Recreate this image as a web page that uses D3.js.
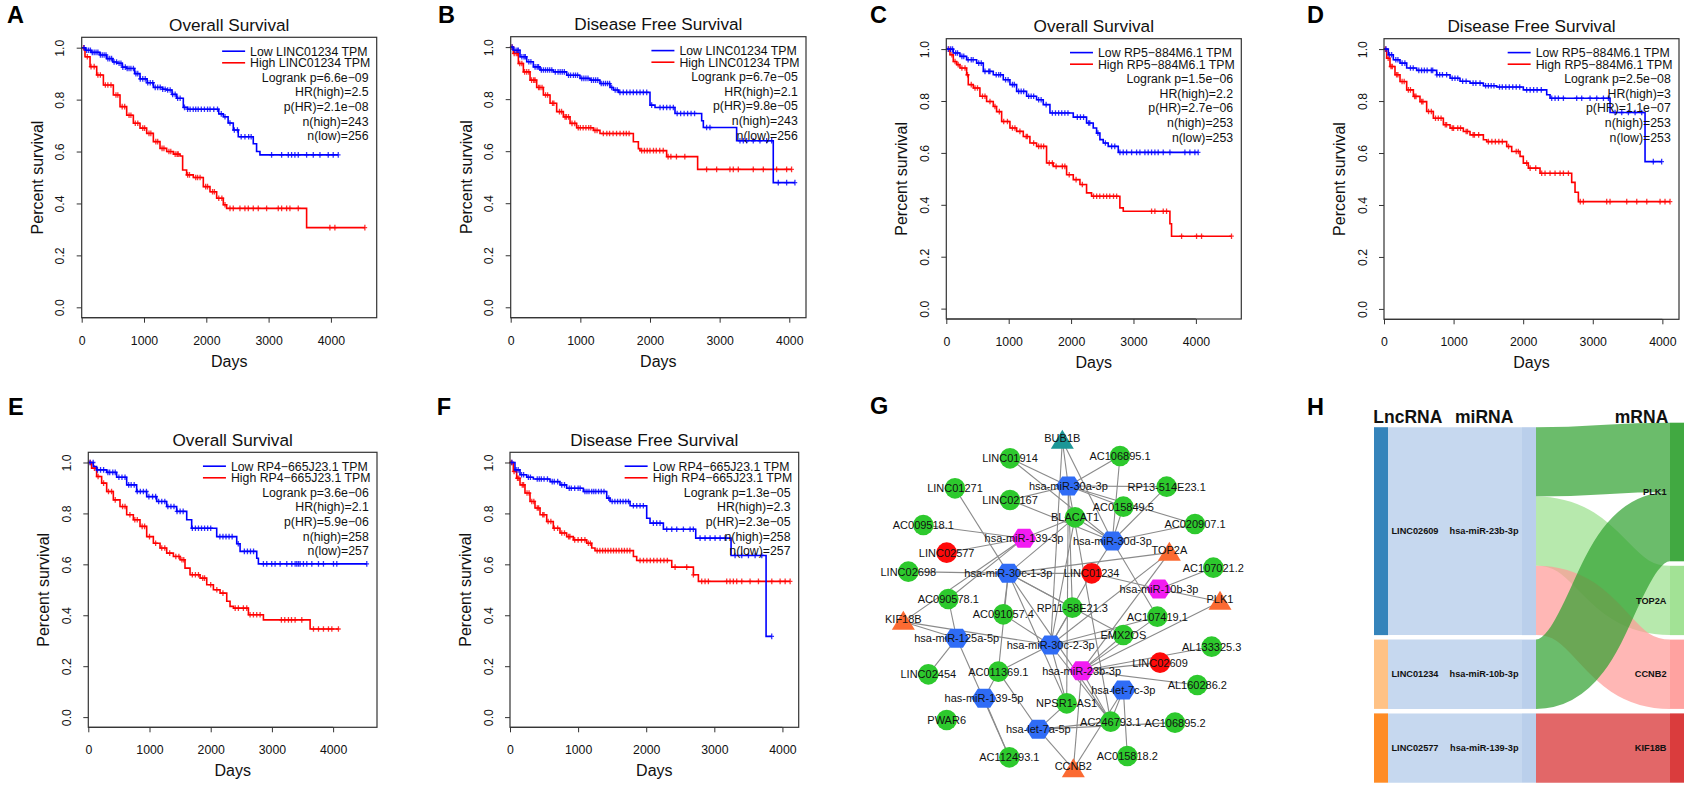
<!DOCTYPE html>
<html><head><meta charset="utf-8">
<script src="https://cdn.jsdelivr.net/npm/d3@7"></script>
<style>
body{margin:0;background:#fff;}
svg{display:block;}
text{font-family:Arial,"Liberation Sans",Helvetica,sans-serif;}
</style></head>
<body>
<svg id="c" width="1687" height="786"></svg>
<script>
// ===================== DATA =====================
const xTicks = [0, 1000, 2000, 3000, 4000];
const yTicks = [0, 0.2, 0.4, 0.6, 0.8, 1.0];

// Kaplan-Meier step points [day, survival] and censor days
const A_low = [[60,0.99],[150,0.982],[294,0.972],[400,0.958],[500,0.945],[561,0.94],[650,0.925],[722,0.92],[850,0.9],[936,0.88],[1050,0.865],[1150,0.847],[1300,0.84],[1364,0.837],[1450,0.82],[1524,0.805],[1631,0.77],[1700,0.763],[2200,0.745],[2273,0.734],[2350,0.71],[2433,0.683],[2513,0.657],[2754,0.63],[2807,0.60],[2861,0.587]];
const A_lowC = [40,80,110,140,170,200,230,260,300,330,360,390,420,450,480,520,560,600,630,660,700,730,760,790,830,870,900,940,980,1020,1060,1100,1140,1180,1220,1260,1300,1340,1380,1420,1460,1500,1540,1580,1650,1700,1740,1790,1830,1870,1920,1970,2020,2060,2120,2180,2240,2300,2380,2450,2500,2560,2620,2680,2720,3048,3209,3316,3369,3422,3476,3610,3717,3824,3957,4037,4118];
const A_high = [[53,0.965],[134,0.927],[241,0.895],[348,0.856],[508,0.818],[615,0.773],[722,0.74],[829,0.709],[936,0.69],[1043,0.67],[1150,0.638],[1257,0.612],[1364,0.60],[1471,0.59],[1578,0.583],[1620,0.529],[1684,0.51],[1791,0.50],[1952,0.465],[2059,0.445],[2166,0.42],[2273,0.395],[2326,0.381],[3610,0.307]];
const A_highC = [30,90,150,200,260,300,380,420,470,550,580,650,690,760,790,860,900,980,1010,1080,1110,1190,1220,1290,1320,1400,1430,1500,1530,1550,1700,1730,1830,1860,1900,1990,2020,2100,2130,2200,2250,2300,2380,2433,2540,2620,2674,2754,2834,2968,3155,3209,3289,3342,3476,3984,4064,4545];

const B_low = [[38,0.988],[134,0.963],[230,0.944],[325,0.924],[421,0.912],[612,0.905],[804,0.892],[995,0.88],[1139,0.873],[1282,0.86],[1426,0.845],[1474,0.835],[1550,0.826],[2000,0.777],[2072,0.768],[2359,0.745],[2742,0.717],[2766,0.691],[3244,0.64],[3770,0.479]];
const B_lowC = [20,60,90,110,160,190,210,260,290,350,380,400,440,470,500,530,560,590,640,680,710,740,770,830,860,900,930,960,1020,1050,1080,1110,1160,1190,1220,1250,1300,1330,1360,1390,1420,1450,1500,1530,1569,1617,1665,1713,1761,1809,1857,1905,1953,2024,2144,2192,2240,2288,2335,2390,2440,2490,2540,2590,2640,2813,2861,3292,3340,3388,3483,3579,3675,3747,3842,3962,4081];
const B_high = [[38,0.976],[110,0.937],[182,0.905],[278,0.873],[373,0.845],[469,0.816],[565,0.784],[660,0.752],[756,0.732],[852,0.707],[947,0.69],[1187,0.68],[1282,0.668],[1761,0.636],[1833,0.61],[1856,0.602],[2239,0.579],[2684,0.53]];
const B_highC = [20,50,80,100,130,160,200,230,260,300,330,350,400,420,450,500,530,600,620,700,730,780,800,830,880,920,970,1000,1040,1080,1120,1150,1210,1240,1330,1380,1420,1470,1520,1570,1620,1660,1700,1880,1920,1960,2000,2050,2090,2140,2190,2260,2300,2380,2500,2813,2957,3148,3196,3268,3483,3627,3818,3962,4033];

const C_low = [[112,0.985],[219,0.972],[326,0.959],[486,0.946],[593,0.914],[753,0.901],[913,0.882],[1020,0.863],[1127,0.837],[1287,0.818],[1447,0.805],[1554,0.786],[1661,0.754],[2035,0.738],[2248,0.715],[2355,0.696],[2409,0.676],[2462,0.651],[2515,0.638],[2595,0.625],[2756,0.602]];
const C_lowC = [30,70,100,150,180,250,280,350,400,430,520,560,620,680,700,800,840,870,950,990,1060,1090,1160,1200,1240,1320,1360,1400,1480,1520,1600,1700,1750,1800,1850,1900,1950,2100,2150,2200,2280,2300,2430,2550,2650,2700,2783,2836,2890,2970,3050,3103,3183,3236,3290,3343,3396,3477,3584,3824,3904,3984,4037];
const C_high = [[59,0.978],[112,0.952],[166,0.94],[219,0.927],[326,0.901],[352,0.863],[433,0.85],[539,0.818],[646,0.798],[753,0.779],[806,0.759],[887,0.721],[1020,0.696],[1127,0.683],[1234,0.663],[1340,0.638],[1447,0.625],[1607,0.561],[1714,0.548],[1928,0.516],[2035,0.497],[2142,0.478],[2248,0.446],[2328,0.433],[2782,0.388],[2836,0.375],[3584,0.327],[3610,0.279]];
const C_highC = [40,90,140,190,250,300,340,400,460,500,580,620,700,780,850,920,980,1060,1100,1180,1280,1300,1400,1480,1520,1560,1650,1700,1760,1860,1900,1970,2080,2180,2360,2410,2460,2520,2570,2620,2680,2730,3290,3343,3477,3530,3771,4011,4091,4571];

const D_low = [[62,0.978],[134,0.959],[230,0.946],[326,0.927],[469,0.918],[757,0.901],[949,0.888],[1092,0.876],[1236,0.869],[1428,0.859],[1619,0.854],[2002,0.843],[2338,0.824],[2386,0.811],[3248,0.756],[3751,0.567]];
const D_lowC = [30,80,110,170,200,260,300,380,420,500,540,580,620,680,700,760,800,840,900,980,1020,1060,1130,1180,1280,1320,1380,1460,1500,1540,1580,1660,1700,1750,1800,1850,1900,1950,2050,2100,2150,2200,2260,2410,2458,2506,2578,2769,2841,2961,3057,3153,3224,3320,3416,3512,3608,3703,3870,3990];
const D_high = [[38,0.965],[86,0.933],[158,0.901],[230,0.875],[326,0.843],[422,0.818],[517,0.798],[613,0.76],[709,0.734],[853,0.709],[949,0.696],[1140,0.683],[1236,0.67],[1428,0.651],[1475,0.644],[1763,0.625],[1835,0.606],[1955,0.587],[2002,0.561],[2074,0.542],[2242,0.522],[2697,0.487],[2745,0.449],[2793,0.413]];
const D_highC = [20,60,100,120,180,200,260,290,350,380,440,460,540,560,640,680,740,780,820,880,900,980,1000,1060,1100,1180,1200,1280,1300,1360,1500,1550,1600,1650,1700,1790,1900,1930,2050,2100,2180,2266,2314,2386,2458,2530,2578,2650,2820,2865,3200,3248,3488,3632,3776,3967,4038,4110];

const E_low = [[82,0.984],[136,0.971],[300,0.961],[463,0.942],[627,0.912],[790,0.886],[954,0.866],[1117,0.847],[1281,0.827],[1444,0.808],[1608,0.775],[1689,0.742],[2098,0.709],[2425,0.681],[2480,0.651],[2752,0.624],[2779,0.602]];
const E_lowC = [30,80,150,200,250,320,350,400,440,500,550,600,660,700,750,800,850,900,950,990,1050,1100,1150,1200,1250,1300,1350,1400,1450,1500,1550,1700,1750,1800,1850,1900,1950,2000,2150,2200,2250,2300,2350,2450,2550,2600,2650,2700,2861,2916,2997,3052,3134,3243,3325,3379,3406,3434,3461,3515,3570,3652,3761,3842,4006,4060,4550];
const E_high = [[54,0.978],[136,0.945],[218,0.919],[300,0.886],[409,0.853],[518,0.827],[627,0.795],[736,0.775],[845,0.749],[954,0.709],[1063,0.683],[1172,0.664],[1281,0.644],[1390,0.631],[1499,0.618],[1580,0.585],[1662,0.559],[1826,0.546],[1935,0.52],[2044,0.50],[2153,0.487],[2262,0.455],[2316,0.435],[2371,0.428],[2616,0.402],[2861,0.382],[3624,0.346]];
const E_highC = [30,100,160,250,330,380,440,560,600,680,760,800,880,920,1000,1100,1200,1250,1330,1430,1480,1530,1560,1700,1750,1800,1870,1900,2000,2100,2200,2400,2452,2534,2589,2643,2698,2752,2807,3155,3210,3270,3320,3379,3488,3679,3761,3842,3924,3979,4087];

const F_low = [[73,0.971],[147,0.952],[245,0.942],[343,0.935],[588,0.925],[734,0.912],[832,0.899],[1077,0.886],[1420,0.86],[1469,0.847],[1763,0.83],[2007,0.781],[2056,0.762],[2252,0.738],[2727,0.703],[3246,0.635],[3760,0.317]];
const F_lowC = [30,90,120,170,200,270,300,400,430,460,500,550,620,650,700,760,800,870,900,950,1000,1030,1100,1130,1160,1200,1230,1260,1300,1340,1380,1450,1500,1540,1580,1620,1660,1700,1740,1812,1861,1910,1958,2105,2154,2203,2301,2375,2448,2546,2644,2692,2791,2864,2938,3011,3085,3158,3305,3403,3501,3599,3697,3843];
const F_high = [[49,0.965],[98,0.938],[147,0.912],[220,0.88],[294,0.847],[367,0.821],[441,0.795],[539,0.768],[636,0.742],[734,0.723],[832,0.709],[930,0.696],[1126,0.683],[1200,0.664],[1248,0.654],[1812,0.631],[1860,0.615],[2375,0.589],[2693,0.559],[2766,0.533]];
const F_highC = [20,60,110,130,180,200,250,280,320,350,400,420,480,500,560,600,650,700,760,800,860,880,950,1000,1050,1100,1150,1180,1280,1320,1360,1400,1440,1480,1520,1560,1600,1640,1680,1720,1760,1910,1960,2010,2060,2110,2160,2210,2260,2310,2424,2595,2693,2815,2864,2913,3182,3231,3280,3329,3403,3525,3648,3844,3966,4040,4113];

const kmTitles = ["Overall Survival","Disease Free Survival","Overall Survival","Disease Free Survival","Overall Survival","Disease Free Survival"];
const kmGenes = ["LINC01234","LINC01234","RP5\u2212884M6.1","RP5\u2212884M6.1","RP4\u2212665J23.1","RP4\u2212665J23.1"];
const kmStats = [
  ["Logrank p=6.6e\u221209","HR(high)=2.5","p(HR)=2.1e\u221208","n(high)=243","n(low)=256"],
  ["Logrank p=6.7e\u221205","HR(high)=2.1","p(HR)=9.8e\u221205","n(high)=243","n(low)=256"],
  ["Logrank p=1.5e\u221206","HR(high)=2.2","p(HR)=2.7e\u221206","n(high)=253","n(low)=253"],
  ["Logrank p=2.5e\u221208","HR(high)=3","p(HR)=1.1e\u221207","n(high)=253","n(low)=253"],
  ["Logrank p=3.6e\u221206","HR(high)=2.1","p(HR)=5.9e\u221206","n(high)=258","n(low)=257"],
  ["Logrank p=1.3e\u221205","HR(high)=2.3","p(HR)=2.3e\u221205","n(high)=258","n(low)=257"]
];
const kmXMax = [4735, 4240, 4728, 4239, 4717, 4239];

// Network (panel G): name, type, layout x, layout y
const netNodes = [
 ["BUB1B","mrna2",727,182],["LINC01914","lnc",570,235],["AC106895.1","lnc",900,228],
 ["hsa-miR-30a-3p","mir",745,318],["RP13-514E23.1","lnc",1040,320],["LINC01271","lnc",405,325],
 ["LINC02167","lnc",570,360],["AC015849.5","lnc",910,380],["BLACAT1","lnc",765,412],
 ["AC009518.1","lnc",310,435],["AC020907.1","lnc",1125,432],["hsa-miR-139-3p","mirKey",612,475],
 ["hsa-miR-30d-3p","mir",877,483],["LINC02577","lncKey",380,518],["TOP2A","mrna",1048,518],
 ["LINC02698","lnc",265,575],["hsa-miR-30c-1-3p","mir",565,580],["LINC01234","lncKey",815,580],
 ["AC107021.2","lnc",1180,563],["hsa-miR-10b-3p","mirKey",1017,627],["PLK1","mrna",1200,665],
 ["AC090578.1","lnc",385,657],["RP11-58E21.3","lnc",757,683],["AC091057.4","lnc",550,703],
 ["AC107419.1","lnc",1012,710],["KIF18B","mrna",250,725],["hsa-miR-125a-5p","mir",410,775],
 ["hsa-miR-30c-2-3p","mir",692,795],["EMX2OS","lnc",910,765],["AL133325.3","lnc",1175,800],
 ["LINC02609","lncKey",1020,848],["hsa-miR-23b-3p","mirKey",785,872],["LINC02454","lnc",325,883],
 ["AC011369.1","lnc",535,875],["AL160286.2","lnc",1132,915],["hsa-let-7c-3p","mir",910,930],
 ["has-miR-139-5p","mir",492,955],["NPSR1-AS1","lnc",740,970],["PWAR6","lnc",380,1020],
 ["AC246793.1","lnc",872,1025],["AC106895.2","lnc",1065,1028],["hsa-let-7a-5p","mir",655,1048],
 ["AC112493.1","lnc",568,1132],["CCNB2","mrna",760,1168],["AC015818.2","lnc",922,1128]
];
const netEdges = [
 ["BUB1B","hsa-miR-30a-3p"],["BUB1B","hsa-miR-30d-3p"],["BUB1B","hsa-miR-30c-2-3p"],
 ["LINC01914","hsa-miR-30a-3p"],["LINC01914","hsa-miR-30d-3p"],
 ["AC106895.1","hsa-miR-30a-3p"],["AC106895.1","hsa-miR-30d-3p"],
 ["RP13-514E23.1","hsa-miR-30a-3p"],["RP13-514E23.1","hsa-miR-30d-3p"],
 ["LINC02167","hsa-miR-30a-3p"],["LINC02167","hsa-miR-30d-3p"],
 ["AC015849.5","hsa-miR-30a-3p"],["AC015849.5","hsa-miR-30d-3p"],
 ["AC020907.1","hsa-miR-30a-3p"],["AC020907.1","hsa-miR-30d-3p"],
 ["BLACAT1","hsa-miR-139-3p"],["BLACAT1","hsa-miR-30c-1-3p"],["BLACAT1","hsa-miR-30c-2-3p"],["BLACAT1","hsa-miR-30d-3p"],
 ["AC009518.1","hsa-miR-139-3p"],["LINC02577","hsa-miR-139-3p"],["AC090578.1","hsa-miR-139-3p"],["KIF18B","hsa-miR-139-3p"],
 ["LINC01271","hsa-miR-30c-1-3p"],["LINC02698","hsa-miR-30c-1-3p"],["LINC01234","hsa-miR-30c-1-3p"],["TOP2A","hsa-miR-30c-1-3p"],
 ["AC091057.4","hsa-miR-30c-1-3p"],["RP11-58E21.3","hsa-miR-30c-1-3p"],["AC011369.1","hsa-miR-30c-1-3p"],
 ["NPSR1-AS1","hsa-miR-30c-1-3p"],["AC246793.1","hsa-miR-30c-1-3p"],["EMX2OS","hsa-miR-30c-1-3p"],
 ["LINC01234","hsa-miR-10b-3p"],["AC107021.2","hsa-miR-10b-3p"],["PLK1","hsa-miR-10b-3p"],["LINC01234","hsa-miR-30d-3p"],
 ["AC107419.1","hsa-miR-30d-3p"],["RP11-58E21.3","hsa-miR-30a-3p"],["RP11-58E21.3","hsa-miR-30c-2-3p"],["LINC01234","hsa-miR-30c-2-3p"],
 ["AC090578.1","hsa-miR-125a-5p"],["KIF18B","hsa-miR-125a-5p"],["LINC02454","hsa-miR-125a-5p"],["AC112493.1","hsa-miR-125a-5p"],
 ["KIF18B","hsa-miR-30c-2-3p"],["AC091057.4","hsa-miR-30c-2-3p"],["AC107419.1","hsa-miR-30c-2-3p"],["EMX2OS","hsa-miR-30c-2-3p"],
 ["TOP2A","hsa-miR-30c-2-3p"],["NPSR1-AS1","hsa-miR-30c-2-3p"],["AC246793.1","hsa-miR-30c-2-3p"],["AC011369.1","hsa-miR-30c-2-3p"],
 ["NPSR1-AS1","hsa-miR-30a-3p"],["AC246793.1","hsa-miR-30a-3p"],
 ["LINC02609","hsa-miR-23b-3p"],["AL133325.3","hsa-miR-23b-3p"],["AL160286.2","hsa-miR-23b-3p"],["TOP2A","hsa-miR-23b-3p"],
 ["PLK1","hsa-miR-23b-3p"],["CCNB2","hsa-miR-23b-3p"],["AC107419.1","hsa-miR-23b-3p"],["EMX2OS","hsa-miR-23b-3p"],["AC246793.1","hsa-miR-23b-3p"],
 ["AC246793.1","hsa-let-7c-3p"],["AC015818.2","hsa-let-7c-3p"],["CCNB2","hsa-let-7c-3p"],
 ["AC112493.1","has-miR-139-5p"],["AC011369.1","has-miR-139-5p"],
 ["AC246793.1","hsa-let-7a-5p"],["AC106895.2","hsa-let-7a-5p"],["NPSR1-AS1","hsa-let-7a-5p"],["CCNB2","hsa-let-7a-5p"],["AC011369.1","hsa-let-7a-5p"]
];

// Sankey (panel H)
const skNodes = ["LINC02609","LINC01234","LINC02577","hsa-miR-23b-3p","hsa-miR-10b-3p","hsa-miR-139-3p","PLK1","TOP2A","CCNB2","KIF18B"];
const skColumn = [0,0,0,1,1,1,2,2,2,2];
const skColors = ["#1f77b4","#ffbb78","#ff7f0e","#aec7e8","#aec7e8","#aec7e8","#2ca02c","#98df8a","#ff9896","#d62728"];
const skLinks = [
 ["LINC02609","hsa-miR-23b-3p",3],["LINC01234","hsa-miR-10b-3p",1],["LINC02577","hsa-miR-139-3p",1],
 ["hsa-miR-23b-3p","PLK1",1],["hsa-miR-23b-3p","TOP2A",1],["hsa-miR-23b-3p","CCNB2",1],
 ["hsa-miR-10b-3p","PLK1",1],["hsa-miR-139-3p","KIF18B",1]
];
const skHeaders = ["LncRNA","miRNA","mRNA"];

// ===================== DRAW =====================
const svg = d3.select("#c");

function stepAt(steps, t){ let s = 1; for (const [tt, ss] of steps){ if (tt <= t) s = ss; else break; } return s; }

const kmBoxes = [
  [81.7, 37.3, 295, 280.4],[510.7, 36.7, 295.3, 281],[946.3, 38.7, 295, 280.3],
  [1384, 38.7, 295, 280.6],[88.3, 452.3, 288.7, 275],[510, 452.3, 288.7, 275]
];
const kmCurves = [[A_low,A_lowC,A_high,A_highC],[B_low,B_lowC,B_high,B_highC],[C_low,C_lowC,C_high,C_highC],
                  [D_low,D_lowC,D_high,D_highC],[E_low,E_lowC,E_high,E_highC],[F_low,F_lowC,F_high,F_highC]];

function drawKM(i){
  const [bx, by, bw, bh] = kmBoxes[i];
  const g = svg.append("g");
  const x = d3.scaleLinear().domain([0, kmXMax[i]]).range([bx, bx + bw]);
  const y = d3.scaleLinear().domain([-0.04, 1.04]).range([by + bh, by]);
  const [lo, loC, hi, hiC] = kmCurves[i];
  const line = d3.line().x(d => x(d[0])).y(d => y(d[1])).curve(d3.curveStepAfter);
  [[hi, hiC, "#ff0000"], [lo, loC, "#0000ff"]].forEach(([steps, cens, col]) => {
    const end = Math.max(d3.max(cens), steps[steps.length-1][0]);
    const pts = [[0,1]].concat(steps).concat([[end, steps[steps.length-1][1]]]);
    g.append("path").attr("d", line(pts)).attr("fill","none").attr("stroke",col).attr("stroke-width",1.6);
    const p = d3.path();
    cens.forEach(t => {
      const cx = x(t), cy = y(stepAt(steps, t));
      p.moveTo(cx - 2.3, cy); p.lineTo(cx + 2.3, cy);
      p.moveTo(cx, cy - 2.8); p.lineTo(cx, cy + 2.8);
    });
    g.append("path").attr("d", p.toString()).attr("fill","none").attr("stroke",col).attr("stroke-width",1.3).attr("opacity",0.8);
  });
  // box
  g.append("rect").attr("x",bx).attr("y",by).attr("width",bw).attr("height",bh)
    .attr("fill","none").attr("stroke","#333").attr("stroke-width",1.2);
  // axes
  const xa = g.append("g").attr("transform",`translate(0,${by+bh})`)
    .call(d3.axisBottom(x).tickValues(xTicks).tickSize(5).tickSizeOuter(0).tickFormat(d3.format("d")));
  xa.select(".domain").remove();
  xa.selectAll(".tick line").attr("stroke","#333");
  xa.selectAll(".tick text").attr("y",27).attr("dy",0).attr("font-size",12.3).attr("fill","#111")
    .style("font-family",'Arial,"Liberation Sans",sans-serif');
  g.append("line").attr("x1",x(0)).attr("x2",x(4000)).attr("y1",by+bh).attr("y2",by+bh).attr("stroke","#333");
  const ya = g.append("g").attr("transform",`translate(${bx},0)`)
    .call(d3.axisLeft(y).tickValues(yTicks).tickSize(5).tickSizeOuter(0).tickFormat(d3.format(".1f")));
  ya.select(".domain").remove();
  ya.selectAll(".tick line").attr("stroke","#333");
  ya.selectAll(".tick text").attr("transform","rotate(-90)").attr("x",0).attr("y",-17.5).attr("dy",0)
    .attr("text-anchor","middle").attr("font-size",12.3).attr("fill","#111")
    .style("font-family",'Arial,"Liberation Sans",sans-serif');
  // titles
  g.append("text").attr("x",bx+bw/2).attr("y",by-6.3).attr("text-anchor","middle").attr("font-size",17.2).attr("fill","#111").text(kmTitles[i]);
  g.append("text").attr("x",bx+bw/2).attr("y",by+bh+49).attr("text-anchor","middle").attr("font-size",16).attr("fill","#111").text("Days");
  g.append("text").attr("transform",`translate(${bx-39},${by+bh/2}) rotate(-90)`).attr("text-anchor","middle")
    .attr("font-size",16).attr("fill","#111").text("Percent survival");
  // legend
  const right = bx + bw;
  const labels = ["Low " + kmGenes[i] + " TPM", "High " + kmGenes[i] + " TPM"];
  const tmp = g.append("text").attr("font-size",12.3).text(labels[1]);
  const w = tmp.node().getComputedTextLength(); tmp.remove();
  const tx = right - 6.5 - w;
  labels.forEach((lab, k) => {
    const cy = by + 13.9 + k * 11.6;
    g.append("line").attr("x1",tx-28).attr("x2",tx-5).attr("y1",cy).attr("y2",cy)
      .attr("stroke", k === 0 ? "#0000ff" : "#ff0000").attr("stroke-width",1.6);
    g.append("text").attr("x",tx).attr("y",cy+4.3).attr("font-size",12.3).attr("fill","#111").text(lab);
  });
  kmStats[i].forEach((s, k) => {
    g.append("text").attr("x",right-8.2).attr("y",by+44.2+k*14.7).attr("text-anchor","end")
      .attr("font-size",12.3).attr("fill","#111").text(s);
  });
}
for (let i = 0; i < 6; i++) drawKM(i);

// panel letters
const letters = [["A",7,23.3],["B",438,23.3],["C",870,23.3],["D",1307,23.3],["E",8,415],["F",436.7,415],["G",870,413.5],["H",1307,415]];
letters.forEach(([t,x,y]) => svg.append("text").attr("x",x).attr("y",y).attr("font-size",23.5).attr("font-weight","bold").attr("fill","#000").text(t));

// ---------- Panel G network ----------
(function(){
  const gx = d3.scaleLinear().domain([0,1260]).range([820,1240]);
  const gy = d3.scaleLinear().domain([0,1218]).range([380,786]);
  const byName = new Map(netNodes.map(n => [n[0], n]));
  const g = svg.append("g");
  g.selectAll("line.e").data(netEdges).join("line")
    .attr("x1",d => gx(byName.get(d[0])[2])).attr("y1",d => gy(byName.get(d[0])[3]))
    .attr("x2",d => gx(byName.get(d[1])[2])).attr("y2",d => gy(byName.get(d[1])[3]))
    .attr("stroke","#8a8a8a").attr("stroke-width",1.1);
  const fill = {lnc:"#2dc92d", lncKey:"#ff0a0a", mir:"#2f6cf6", mirKey:"#f21cf2", mrna:"#fb6a32", mrna2:"#1c9797"};
  const hex = r => { const p = d3.path(); for (let k = 0; k < 6; k++){ const a = Math.PI/3*k; const px = r*Math.cos(a), py = r*Math.sin(a)*0.88; k ? p.lineTo(px,py) : p.moveTo(px,py);} p.closePath(); return p.toString(); };
  const tri = "M0,-11L11.5,8L-11.5,8Z";
  netNodes.forEach(n => {
    const [name, type, lx, ly] = n;
    const cx = gx(lx), cy = gy(ly);
    const node = g.append("g").attr("transform",`translate(${cx},${cy})`);
    if (type === "lnc" || type === "lncKey") node.append("circle").attr("r",10.3).attr("fill",fill[type]);
    else if (type === "mir" || type === "mirKey") node.append("path").attr("d",hex(12.5)).attr("fill",fill[type]);
    else node.append("path").attr("d",tri).attr("fill",fill[type]);
  });
  netNodes.forEach(n => {
    const [name, type, lx, ly] = n;
    const off = (type === "mrna" || type === "mrna2") ? -3 : 0;
    g.append("text").attr("x",gx(lx)).attr("y",gy(ly)+off).attr("dy","0.36em").attr("text-anchor","middle")
      .attr("font-size",11).attr("fill","#111").text(name);
  });
})();

// ---------- Panel H sankey ----------
(function(){
  const top = 422.7, bottom = 782.7, pad = 4.5, nodeW = 14;
  const colX = d3.scaleLinear().domain([0,2]).range([1374,1670]);
  const nodes = skNodes.map((name,i) => ({name, col: skColumn[i], color: skColors[i], inV:0, outV:0, ins:[], outs:[]}));
  const byName = new Map(nodes.map(n => [n.name, n]));
  const links = skLinks.map(([s,t,v]) => ({source: byName.get(s), target: byName.get(t), value: v}));
  links.forEach(l => { l.source.outV += l.value; l.target.inV += l.value; l.source.outs.push(l); l.target.ins.push(l); });
  nodes.forEach(n => n.value = Math.max(n.inV, n.outV));
  const cols = d3.groups(nodes, n => n.col);
  const ky = d3.min(cols, ([c, ns]) => (bottom - top - (ns.length-1)*pad) / d3.sum(ns, n => n.value));
  const vScale = d3.scaleLinear().domain([0,1]).range([0,ky]);
  cols.forEach(([c, ns]) => {
    const total = d3.sum(ns, n => vScale(n.value)) + (ns.length-1)*pad;
    let yy = bottom - total;
    ns.forEach(n => { n.x0 = colX(c); n.x1 = n.x0 + nodeW; n.y0 = yy; n.y1 = yy + vScale(n.value); yy = n.y1 + pad; });
  });
  nodes.forEach(n => {
    n.outs.sort((a,b) => a.target.y0 - b.target.y0);
    n.ins.sort((a,b) => a.source.y0 - b.source.y0);
    let yo = n.y0; n.outs.forEach(l => { l.width = vScale(l.value); l.ys = yo + l.width/2; yo += l.width; });
    let yi = n.y0; n.ins.forEach(l => { l.yt = yi + vScale(l.value)/2; yi += vScale(l.value); });
  });
  const g = svg.append("g");
  const lk = d3.linkHorizontal().source(d => [d.source.x1, d.ys]).target(d => [d.target.x0, d.yt]);
  g.selectAll("path.l").data(links).join("path").attr("d", lk).attr("fill","none")
    .attr("stroke", d => d.target.color).attr("stroke-opacity",0.7).attr("stroke-width", d => d.width);
  g.selectAll("rect.n").data(nodes).join("rect")
    .attr("x", d => d.x0).attr("y", d => d.y0).attr("width", nodeW).attr("height", d => d.y1 - d.y0)
    .attr("fill", d => d.color).attr("fill-opacity", d => d.col === 1 ? 0.85 : 0.9);
  g.selectAll("text.n").data(nodes).join("text")
    .attr("x", d => d.col === 0 ? d.x1 + 3.5 : d.x0 - 3.5)
    .attr("y", d => (d.y0 + d.y1)/2).attr("dy","0.35em")
    .attr("text-anchor", d => d.col === 0 ? "start" : "end")
    .attr("font-size",9.2).attr("font-weight","bold").attr("fill","#111").text(d => d.name);
  const hx = [[colX(0)-0.7,"start"],[1455,"start"],[colX(2)-1.7,"end"]];
  skHeaders.forEach((h,k) => g.append("text").attr("x",hx[k][0]).attr("y",423.3).attr("text-anchor",hx[k][1])
    .attr("font-size",17.5).attr("font-weight","bold").attr("fill","#111").text(h));
})();
</script>
</body></html>
